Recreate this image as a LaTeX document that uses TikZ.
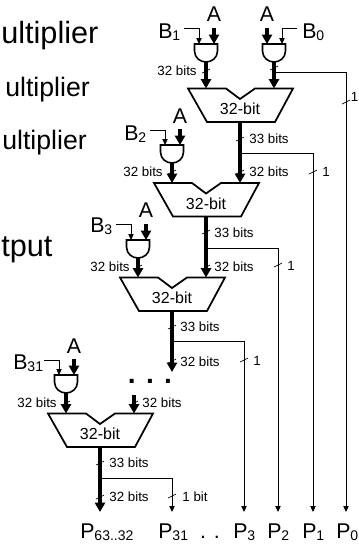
\documentclass[tikz,border=0pt]{standalone}
\usepackage{fontspec}
\setmainfont{Liberation Sans}
\usetikzlibrary{arrows.meta}
\newcommand{\lowsub}[1]{\raisebox{-2.2pt}{\fontsize{10.5}{12}\selectfont #1}}
\tikzset{
  bus/.style={line width=2.8pt, -{Triangle[length=7pt,width=7.5pt]}},
  wire/.style={line width=0.75pt, -{Triangle[length=4.5pt,width=4pt]}},
  tickmark/.style={line width=0.5pt},
  bits/.style={inner sep=0, font=\fontsize{10}{12}\selectfont},
  sig/.style={inner sep=0, anchor=base west, font=\fontsize{16}{18}\selectfont},
  title/.style={inner sep=0, anchor=base west, font=\fontsize{20}{24}\selectfont},
  adder/.pic={
    \draw[line width=1.3pt, line join=miter] (0,0) -- (38,0) -- (52,10.5) -- (67,0) -- (105,0) -- (87,33.5) -- (19,33.5) -- cycle;
    \node[inner sep=0, font=\fontsize{12}{14}\selectfont] (-txt) at (52,20.5) {32-bit};
    \coordinate (-l) at (18,0);
    \coordinate (-r) at (86,0);
    \coordinate (-o) at (52,33.5);
  },
  gate/.pic={
    \draw[line width=1.2pt] (0,0) -- (23,0) -- (23,7) .. controls (23,14) and (17,18) .. (11.5,18) .. controls (6,18) and (0,14) .. (0,7) -- cycle;
    \coordinate (-a) at (4.5,0);
    \coordinate (-b) at (19.5,0);
    \coordinate (-o) at (11.5,18);
  }
}
\begin{document}
\begin{tikzpicture}[x=0.75pt, y=-0.75pt]
  \useasboundingbox (0,0) rectangle (358,547);
  % left column
  \node[title, font=\fontsize{23}{26}\selectfont] (t1) at (1,43) {ultiplier};
  \node[title] (t2) at (5,96) {ultiplier};
  \node[title] (t3) at (2,149) {ultiplier};
  \node[title, font=\fontsize{23}{26}\selectfont] (t4) at (1,256) {tput};
  % adders
  \pic (a1) at (188,88.5) {adder};
  \pic (a2) at (154,183) {adder};
  \pic (a3) at (120,277.5) {adder};
  \pic (a4) at (48,413.5) {adder};
  % gates
  \pic (g1) at (194.5,44) {gate};
  \pic (g0) at (262.5,44) {gate};
  \pic (g2) at (160.5,145) {gate};
  \pic (g3) at (126.5,240) {gate};
  \pic (g4) at (54.5,375) {gate};
  % inputs
  \node[sig, anchor=base] (a1in) at (214,21) {A};
  \node[sig, anchor=base] (a0in) at (267,21) {A};
  \node[sig, anchor=base] (a2in) at (180,123) {A};
  \node[sig, anchor=base] (a3in) at (146,217) {A};
  \node[sig, anchor=base] (a4in) at (74,353) {A};
  \node[sig] (b1) at (158,38) {B\lowsub{1}};
  \node[sig] (b0) at (302,38) {B\lowsub{0}};
  \node[sig] (b2) at (124,140) {B\lowsub{2}};
  \node[sig] (b3) at (90,232) {B\lowsub{3}};
  \node[sig] (b4) at (13,369) {B\lowsub{31}};
  \draw[bus] (214,28) -- (g1-b);
  \draw[bus] (267,28) -- (g0-a);
  \draw[bus] (180,129) -- (g2-b);
  \draw[bus] (146,224) -- (g3-b);
  \draw[bus] (74,359) -- (g4-b);
  \draw[wire] (184,28) -| (g1-a);
  \draw[wire] (297,28) -| (g0-b);
  \draw[wire] (150,130) -| (g2-a);
  \draw[wire] (116,224) -| (g3-a);
  \draw[wire] (44,360) -| (g4-a);
  % buses between adders
  \coordinate (e0) at (346,512);
  \coordinate (e1) at (313,512);
  \coordinate (e2) at (278,512);
  \coordinate (e3) at (244,512);
  \coordinate (e4) at (172,512);
  \coordinate (e5) at (100,512);
  \coordinate (up) at (134,395);
  \draw[bus] (g1-o) -- (a1-l);
  \draw[bus] (g0-o) -- (a1-r);
  \draw[bus] (g2-o) -- (a2-l);
  \draw[bus] (g3-o) -- (a3-l);
  \draw[bus] (g4-o) -- (a4-l);
  \draw[bus] (a1-o) -- (a2-r);
  \draw[bus] (a2-o) -- (a3-r);
  \draw[bus] (a3-o) -- (172,372);
  \draw[bus] (up) -- (a4-r);
  \draw[bus] (a4-o) -- (e5);
  % low bits
  \draw[wire] (274,72) -| (e0);
  \draw[wire] (240,153) -| (e1);
  \draw[wire] (206,248) -| (e2);
  \draw[wire] (172,341.5) -| (e3);
  \draw[wire] (100,478) -| (e4);
  \foreach \x/\y in {346/102, 313/172, 278/265, 244/360, 172/496, 206/71, 274/68, 240/139, 240/172, 172/172, 206/232, 206/267, 138/267, 172/327, 172/361, 66/403, 134/403, 100/463, 100/497}
    \draw[tickmark] (\x-4,\y+2) -- (\x+4,\y-2);
  % bit counts
  \foreach \x/\y/\t [count=\i] in {269/139/33 bits, 269/172/32 bits, 234/232.5/33 bits, 234/267/32 bits, 200/327/33 bits, 200/362/32 bits, 129/463/33 bits, 129/497/32 bits, 162/403/32 bits, 177/71/32 bits, 143/172/32 bits, 110/267/32 bits, 37/403/32 bits, 195/497/1 bit, 326/172/1, 291/266/1, 257/361/1, 354.5/97/1}
    \node[bits] (n\i) at (\x,\y) {\t};
  \node[inner sep=0, anchor=base, font=\bfseries\fontsize{21}{24}\selectfont] (dots) at (150,383) {. . .};
  % outputs
  \node[sig] (p63) at (80,538) {P\lowsub{63..32}};
  \node[sig] (p31) at (158,538) {P\lowsub{31}};
  \node[sig, anchor=base] (pdots) at (210,538) {. .};
  \node[sig] (p3) at (233,538) {P\lowsub{3}};
  \node[sig] (p2) at (267,538) {P\lowsub{2}};
  \node[sig] (p1) at (302,538) {P\lowsub{1}};
  \node[sig] (p0) at (336,538) {P\lowsub{0}};
\end{tikzpicture}
\end{document}
